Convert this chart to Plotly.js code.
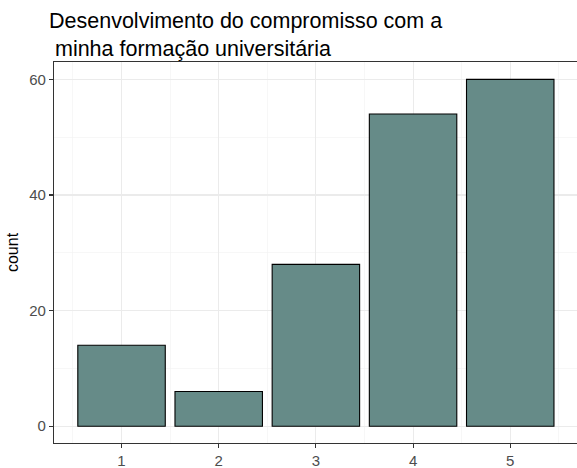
<!DOCTYPE html>
<html>
<head>
<meta charset="utf-8">
<script src="https://cdn.plot.ly/plotly-3.0.1.min.js"></script>
<style>html,body{margin:0;padding:0;background:#fff;}</style>
</head>
<body>
<div id="chart" style="width:577px;height:468px;"></div>
<script>
const categories = [1, 2, 3, 4, 5];
const counts = [14, 6, 28, 54, 60];
const yTicks = [0, 20, 40, 60];
const titleText = "Desenvolvimento do compromisso com a<br>&nbsp;minha formação universitária";

const trace = {
  type: 'bar',
  x: categories,
  y: counts,
  width: 0.9,
  marker: {color: '#668B88', line: {color: '#000000', width: 1.1}},
  hoverinfo: 'x+y'
};

const layout = {
  width: 577,
  height: 468,
  margin: {l: 54, r: 0, t: 62, b: 25},
  paper_bgcolor: '#ffffff',
  plot_bgcolor: '#ffffff',
  showlegend: false,
  font: {family: 'Liberation Sans, Arial, sans-serif'},
  title: {
    text: titleText,
    x: 49/577, xanchor: 'left', xref: 'container',
    y: 1 - 28/468, yanchor: 'top', yref: 'container',
    font: {size: 21.5, color: '#000000'}
  },
  xaxis: {
    range: [0.305, 5.687],
    tickvals: categories,
    ticktext: categories.map(String),
    showgrid: true, gridcolor: '#EBEBEB', gridwidth: 1.1,
    minor: {tickmode: 'array', tickvals: [0.5, 1.5, 2.5, 3.5, 4.5, 5.5], showgrid: true, gridcolor: '#F2F2F2', gridwidth: 0.6, ticks: ''},
    zeroline: false,
    showline: true, mirror: true, linecolor: '#333333', linewidth: 1.1,
    ticks: 'outside', ticklen: 4, tickcolor: '#333333', tickwidth: 1.1,
    tickfont: {size: 15, color: '#4D4D4D'}
  },
  yaxis: {
    range: [-2.9, 63],
    tickvals: yTicks,
    ticktext: yTicks.map(String),
    showgrid: true, gridcolor: '#EBEBEB', gridwidth: 1.1,
    minor: {tickmode: 'array', tickvals: [10, 30, 50], showgrid: true, gridcolor: '#F2F2F2', gridwidth: 0.6, ticks: ''},
    zeroline: false,
    showline: true, linecolor: '#333333', linewidth: 1.1,
    ticks: 'outside', ticklen: 4, tickcolor: '#333333', tickwidth: 1.1,
    tickfont: {size: 15, color: '#4D4D4D'},
    title: {text: 'count', font: {size: 16, color: '#000000'}, standoff: 6}
  },
  bargap: 0.1
};

Plotly.newPlot('chart', [trace], layout, {displayModeBar: false, staticPlot: true});
</script>
</body>
</html>
